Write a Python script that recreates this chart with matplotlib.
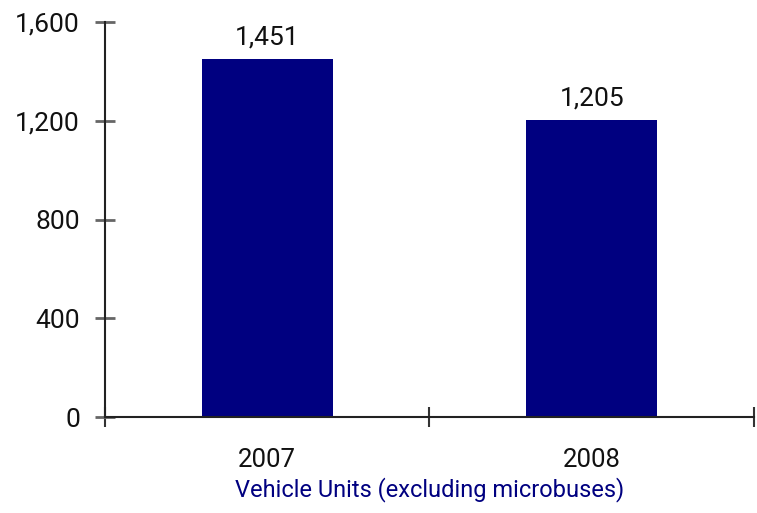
import matplotlib.pyplot as plt
import numpy as np

years = ["2007", "2008"]
units = [1451, 1205]
y_ticks = [0, 400, 800, 1200, 1600]

navy = "#000080"
plt.rcParams["font.family"] = ["Roboto", "DejaVu Sans"]

fig = plt.figure(figsize=(7.57, 5.13), dpi=100)
ax = fig.add_axes([0.1387, 0.1871, 0.8573, 0.7700])

x = np.arange(len(years))
bars = ax.bar(x, units, width=0.405, color=navy, zorder=2)

for rect, v in zip(bars, units):
    ax.text(rect.get_x() + rect.get_width() / 2, v + 38, f"{v:,}",
            ha="center", va="bottom", fontsize=19, color="#111111")

ax.set_xlim(-0.5, len(years) - 0.5)
ax.set_ylim(0, 1600)

# category ticks sit between the bars, labels sit under the bars
ax.set_xticks(np.arange(len(years) + 1) - 0.5)
ax.set_xticklabels([])
ax.set_xticks(x, minor=True)
ax.set_xticklabels(years, minor=True, fontsize=18.5, color="#111111")
ax.tick_params(axis="x", which="minor", length=0, pad=22)
ax.tick_params(axis="x", which="major", direction="inout", length=14.5,
               width=1.5, color="#333333")

ax.set_yticks(y_ticks)
ax.set_yticklabels([f"{t:,}" for t in y_ticks], fontsize=19, color="#111111")
ax.tick_params(axis="y", direction="inout", length=14, width=2,
               color="#666666", pad=11)

for side in ("top", "right"):
    ax.spines[side].set_visible(False)
for side in ("left", "bottom"):
    ax.spines[side].set_color("#222222")
    ax.spines[side].set_linewidth(1.5)

ax.set_xlabel("Vehicle Units (excluding microbuses)", fontsize=17,
              color=navy, labelpad=4)

fig.savefig("out.png", dpi=100)
